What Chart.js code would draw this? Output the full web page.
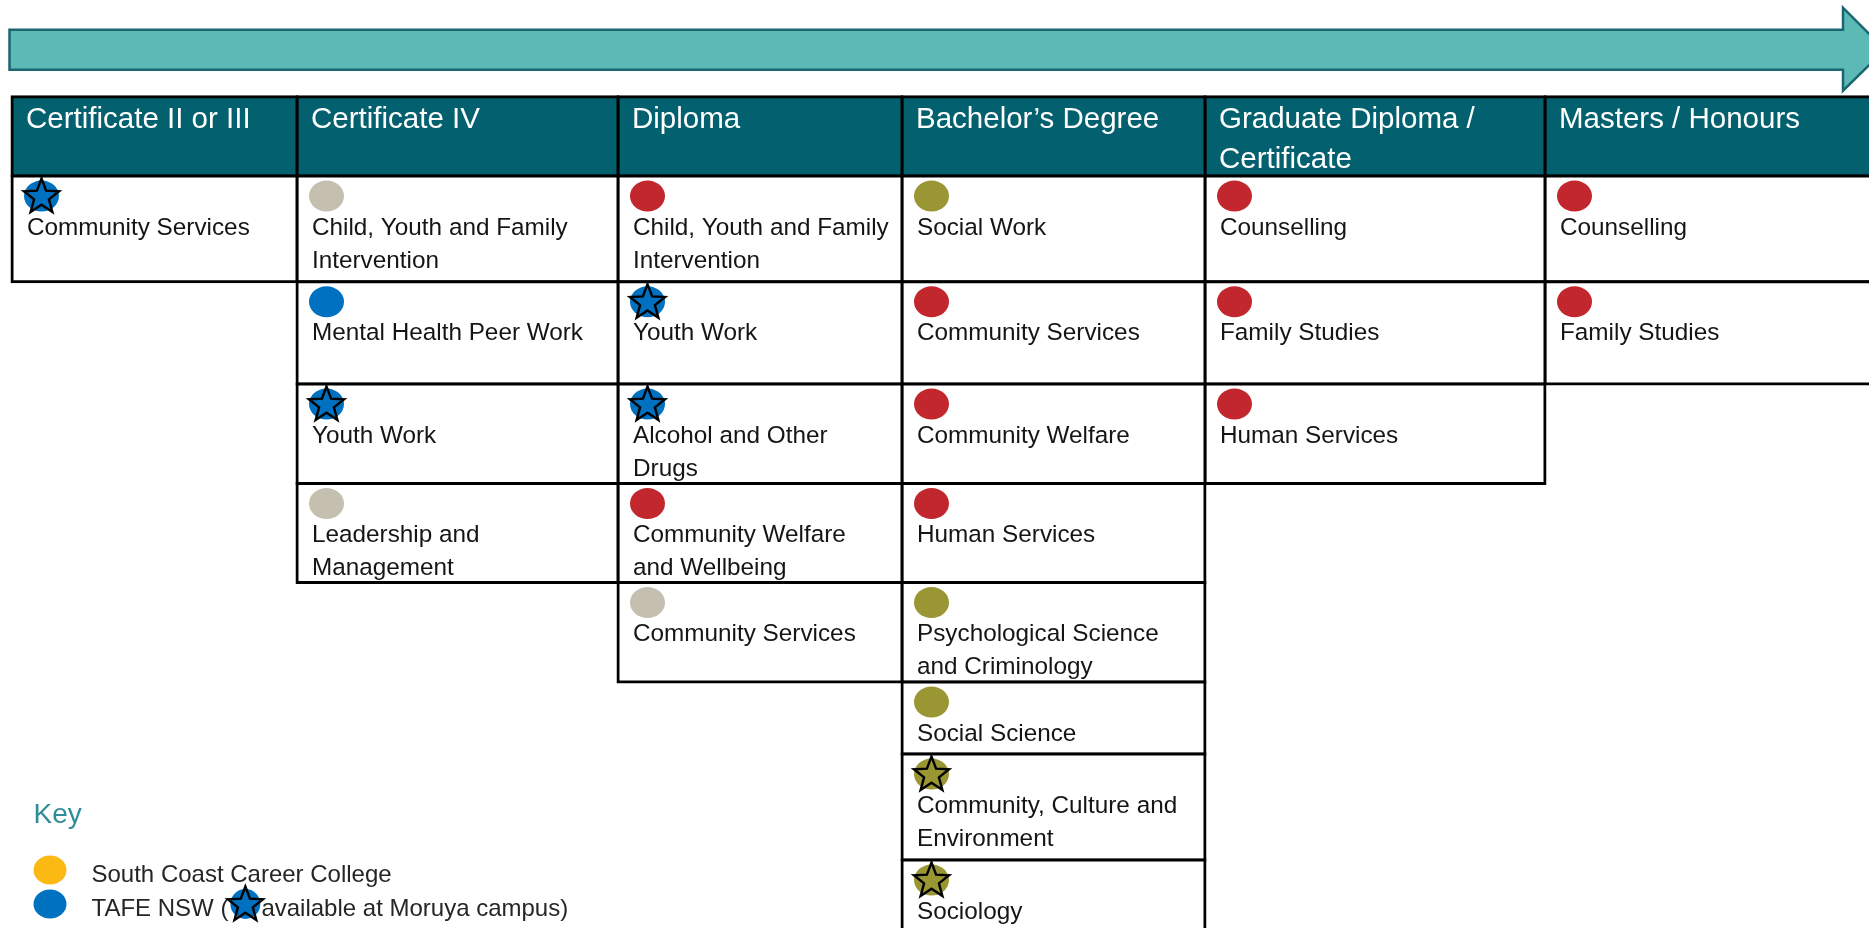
<!DOCTYPE html>
<html>
<head>
<meta charset="utf-8">
<title>Community services study pathways</title>
<script src="https://cdn.jsdelivr.net/npm/chart.js@4.4.1/dist/chart.umd.min.js"></script>
<style>
  html, body { margin: 0; padding: 0; background: #fff; overflow: hidden; }
  canvas { display: block; }
</style>
</head>
<body>
<canvas id="pathwayChart" width="1869" height="928"></canvas>
<script>
// qualification levels (table columns), left to right
const levels = ['Certificate II or III', 'Certificate IV', 'Diploma', 'Bachelor’s Degree', 'Graduate Diploma /\nCertificate', 'Masters / Honours'];

// courses per level, the provider that runs each one, and whether it is on at Moruya
const certIIICourses = ['Community Services'];
const certIIIProviders = ['TAFE'];
const certIIIMoruya = [true];

const certIVCourses = ['Child, Youth and Family\nIntervention', 'Mental Health Peer Work', 'Youth Work', 'Leadership and\nManagement'];
const certIVProviders = ['other1', 'TAFE', 'TAFE', 'other1'];
const certIVMoruya = [false, false, true, false];

const diplomaCourses = ['Child, Youth and Family\nIntervention', 'Youth Work', 'Alcohol and Other\nDrugs', 'Community Welfare\nand Wellbeing', 'Community Services'];
const diplomaProviders = ['other2', 'TAFE', 'TAFE', 'other2', 'other1'];
const diplomaMoruya = [false, true, true, false, false];

const bachelorCourses = ['Social Work', 'Community Services', 'Community Welfare', 'Human Services', 'Psychological Science\nand Criminology', 'Social Science', 'Community, Culture and\nEnvironment', 'Sociology'];
const bachelorProviders = ['other3', 'other2', 'other2', 'other2', 'other3', 'other3', 'other3', 'other3'];
const bachelorMoruya = [false, false, false, false, false, false, true, true];

const gradDipCourses = ['Counselling', 'Family Studies', 'Human Services'];
const gradDipProviders = ['other2', 'other2', 'other2'];
const gradDipMoruya = [false, false, false];

const mastersCourses = ['Counselling', 'Family Studies'];
const mastersProviders = ['other2', 'other2'];
const mastersMoruya = [false, false];

// key (the rest of the key is cut off in the source)
const keyProviders = ['SCCC', 'TAFE'];
const keyLabels = ['South Coast Career College', 'TAFE NSW ({star}available at Moruya campus)'];

// layout of the table: relative column widths and row heights (header row first)
const colWidths = [285, 321, 284, 303, 340, 324];
const rowHeights = [0.793, 1.057, 1.023, 0.995, 0.99, 0.995, 0.72, 1.06, 0.72];
const visibleRows = 8.313;

const providerColors = {
  SCCC: '#fdb913',
  TAFE: '#0070c0',
  other1: '#c5bfb0',
  other2: '#c1272d',
  other3: '#9a9634'
};
const HEADER = '#03606e';
const FONT = '"Liberation Sans", Arial, sans-serif';

const columns = [
  { courses: certIIICourses, providers: certIIIProviders, moruya: certIIIMoruya },
  { courses: certIVCourses, providers: certIVProviders, moruya: certIVMoruya },
  { courses: diplomaCourses, providers: diplomaProviders, moruya: diplomaMoruya },
  { courses: bachelorCourses, providers: bachelorProviders, moruya: bachelorMoruya },
  { courses: gradDipCourses, providers: gradDipProviders, moruya: gradDipMoruya },
  { courses: mastersCourses, providers: mastersProviders, moruya: mastersMoruya }
];

// row edges in row units
const rowTops = [0];
rowHeights.forEach((h, i) => rowTops.push(rowTops[i] + h));

const datasets = columns.map((col, c) => ({
  label: levels[c],
  xAxisID: 'x' + c,
  data: [{ x: levels[c], y: [rowTops[0], rowTops[1]] }].concat(
    col.courses.map((name, r) => ({ x: levels[c], y: [rowTops[r + 1], rowTops[r + 2]] }))
  ),
  backgroundColor: (ctx) => ctx.dataIndex === 0 ? HEADER : '#ffffff',
  borderColor: '#000000',
  borderWidth: 3,
  inflateAmount: 1.5,
  borderSkipped: c === columns.length - 1 ? 'right' : false,
  grouped: false,
  clip: false,
  barPercentage: 1,
  categoryPercentage: 1
}));

const scales = {};
levels.forEach((lvl, c) => {
  scales['x' + c] = {
    type: 'category',
    labels: [lvl],
    offset: true,
    position: 'bottom',
    stack: 'levels',
    stackWeight: colWidths[c],
    display: false
  };
});
scales.y = { type: 'linear', reverse: true, min: 0, max: visibleRows, display: false };

function drawStar(ctx, cx, cy, R, r) {
  ctx.beginPath();
  for (let k = 0; k < 10; k++) {
    const ang = -Math.PI / 2 + k * Math.PI / 5;
    const rad = k % 2 ? r : R;
    ctx.lineTo(cx + rad * Math.cos(ang), cy + rad * Math.sin(ang));
  }
  ctx.closePath();
  ctx.lineWidth = 2.4;
  ctx.lineJoin = 'miter';
  ctx.strokeStyle = '#000';
  ctx.stroke();
}

function drawDot(ctx, cx, cy, color, star, rx = 17.5, ry = 15.5) {
  ctx.beginPath();
  ctx.ellipse(cx, cy, rx, ry, 0, 0, Math.PI * 2);
  ctx.fillStyle = color;
  ctx.fill();
  if (star) drawStar(ctx, cx, cy + 1, 18.5, 7.8);
}

const tablePlugin = {
  id: 'pathwayTable',
  beforeDatasetsDraw(chart) {
    // progression arrow above the table
    const ctx = chart.ctx;
    const a = chart.chartArea;
    const left = a.left - 2.5;
    const top = a.top - 67;
    const bottom = a.top - 27;
    const headX = a.right - 26;
    const mid = a.top - 47;
    ctx.save();
    ctx.beginPath();
    ctx.moveTo(left, top);
    ctx.lineTo(headX, top);
    ctx.lineTo(headX, a.top - 89);
    ctx.lineTo(headX + 42, mid);
    ctx.lineTo(headX, a.top - 6);
    ctx.lineTo(headX, bottom);
    ctx.lineTo(left, bottom);
    ctx.closePath();
    ctx.fillStyle = '#5bbab6';
    ctx.fill();
    ctx.lineWidth = 2.5;
    ctx.strokeStyle = '#1b6670';
    ctx.stroke();
    ctx.restore();
  },
  afterDatasetsDraw(chart) {
    const ctx = chart.ctx;
    ctx.save();
    ctx.textBaseline = 'alphabetic';
    ctx.textAlign = 'left';
    chart.data.datasets.forEach((ds, di) => {
      const col = columns[di];
      chart.getDatasetMeta(di).data.forEach((bar, i) => {
        const p = bar.getProps(['x', 'y', 'base', 'width'], true);
        const left = p.x - p.width / 2;
        const top = Math.min(p.y, p.base);
        if (i === 0) {
          ctx.fillStyle = '#ffffff';
          ctx.font = '29.5px ' + FONT;
          ds.label.split('\n').forEach((line, k) => ctx.fillText(line, left + 14, top + 31.5 + k * 39.5));
          return;
        }
        const r = i - 1;
        drawDot(ctx, left + 29.5, top + 20, providerColors[col.providers[r]], col.moruya[r]);
        ctx.fillStyle = '#151515';
        ctx.font = '24.3px ' + FONT;
        col.courses[r].split('\n').forEach((line, k) => ctx.fillText(line, left + 15, top + 58.5 + k * 33));
      });
    });

    // key
    const a = chart.chartArea;
    const kx = a.left + 21.5;
    const ky = chart.height - 105;
    ctx.fillStyle = '#2f8c98';
    ctx.font = '28px ' + FONT;
    ctx.fillText('Key', kx, ky);
    keyLabels.forEach((label, k) => {
      const cy = ky + 47 + k * 34;
      drawDot(ctx, kx + 16.5, cy, providerColors[keyProviders[k]], false, 16.5, 14.5);
      ctx.fillStyle = '#262626';
      ctx.font = '24px ' + FONT;
      let x = kx + 58;
      const parts = label.split('{star}');
      parts.forEach((part, j) => {
        if (j > 0) {
          drawDot(ctx, x + 17, cy, providerColors[keyProviders[k]], true, 15, 15);
          ctx.fillStyle = '#262626';
          x += 33;
        }
        ctx.fillText(part, x, cy + 11.5);
        x += ctx.measureText(part).width;
      });
    });
    ctx.restore();
  }
};

new Chart(document.getElementById('pathwayChart').getContext('2d'), {
  type: 'bar',
  data: { datasets },
  options: {
    responsive: false,
    devicePixelRatio: 1,
    animation: false,
    layout: { padding: { top: 96.7, left: 12, right: 0, bottom: 0 } },
    scales,
    plugins: {
      legend: { display: false },
      tooltip: { enabled: false }
    }
  },
  plugins: [tablePlugin]
});
</script>
</body>
</html>
